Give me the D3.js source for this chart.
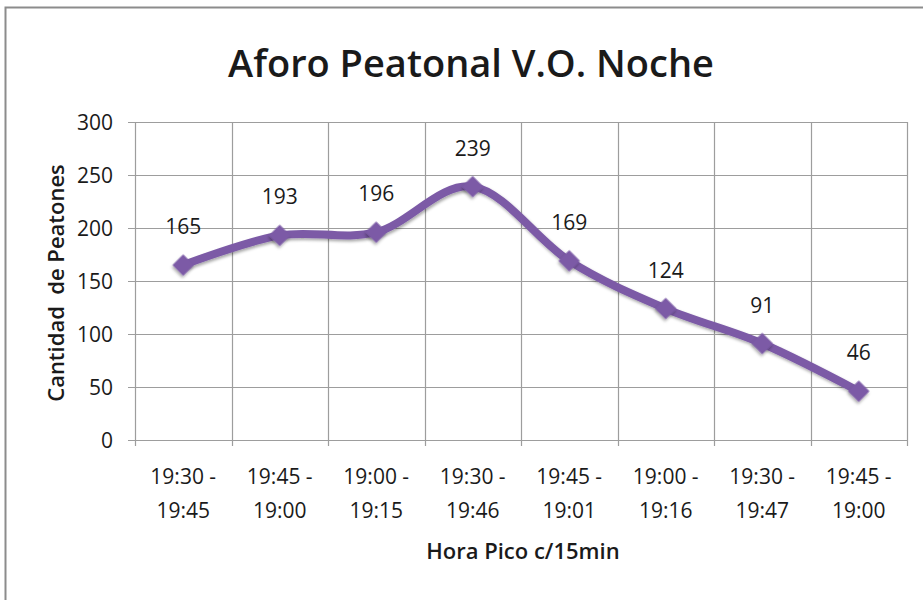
<!DOCTYPE html>
<html lang="es">
<head>
  <meta charset="UTF-8">
  <title>Aforo Peatonal V.O. Noche</title>
  <script src="https://d3js.org/d3.v7.min.js"></script>
  <style>
    body { margin: 0; background: #fff; }
    text { font-family: "Open Sans", "Noto Sans", sans-serif; fill: #1a1a1a; }
  </style>
</head>
<body>

<div id="chart"></div>

<script>
// Data
const categories = [
  ["19:30 -", "19:45"],
  ["19:45 -", "19:00"],
  ["19:00 -", "19:15"],
  ["19:30 -", "19:46"],
  ["19:45 -", "19:01"],
  ["19:00 -", "19:16"],
  ["19:30 -", "19:47"],
  ["19:45 -", "19:00"]
];
const peatones = [165, 193, 196, 239, 169, 124, 91, 46];
const yTicks = [0, 50, 100, 150, 200, 250, 300];

const width = 923;
const height = 600;
const margin = { top: 122, right: 16, bottom: 160, left: 135 };
const purple = "#7b5aa6";
const grid = "#9d9d9d";

const svg = d3.select("#chart")
  .append("svg")
  .attr("width", width)
  .attr("height", height);

// shadow for line and markers
const defs = svg.append("defs");
const f = defs.append("filter").attr("id", "shadow")
  .attr("x", "-50%").attr("y", "-50%").attr("width", "200%").attr("height", "200%");
f.append("feDropShadow").attr("dx", 1).attr("dy", 2).attr("stdDeviation", 1.5)
  .attr("flood-color", "#000").attr("flood-opacity", 0.35);

// outer frame
svg.append("rect")
  .attr("x", 5.5).attr("y", 7.5)
  .attr("width", width + 10).attr("height", height + 10)
  .attr("fill", "none").attr("stroke", "#8c8c8c").attr("stroke-width", 2);

const x = d3.scaleBand()
  .domain(d3.range(categories.length))
  .range([margin.left, width - margin.right]);

const y = d3.scaleLinear()
  .domain([0, 300])
  .range([height - margin.bottom, margin.top]);

// horizontal gridlines
svg.append("g")
  .selectAll("line")
  .data(yTicks)
  .enter().append("line")
  .attr("x1", margin.left - 7).attr("x2", width - margin.right)
  .attr("y1", d => Math.round(y(d)) + 0.5).attr("y2", d => Math.round(y(d)) + 0.5)
  .attr("stroke", grid).attr("stroke-width", 1.2);

// vertical gridlines at category boundaries
const bounds = d3.range(categories.length + 1).map(i =>
  i < categories.length ? x(i) : x(i - 1) + x.bandwidth());
svg.append("g")
  .selectAll("line")
  .data(bounds)
  .enter().append("line")
  .attr("x1", d => Math.round(d) + 0.5).attr("x2", d => Math.round(d) + 0.5)
  .attr("y1", y(300)).attr("y2", y(0) + 6)
  .attr("stroke", grid).attr("stroke-width", 1.2);

// y tick labels
svg.append("g")
  .selectAll("text")
  .data(yTicks)
  .enter().append("text")
  .attr("x", margin.left - 22)
  .attr("y", d => y(d))
  .attr("dy", "0.36em")
  .attr("text-anchor", "end")
  .style("font-size", "21px")
  .text(d => d);

// x tick labels
const cx = (d, i) => x(i) + x.bandwidth() / 2;
const xl = svg.append("g")
  .selectAll("text")
  .data(categories)
  .enter().append("text")
  .attr("x", cx)
  .attr("y", 484)
  .attr("text-anchor", "middle")
  .style("font-size", "21px");
xl.append("tspan").attr("x", cx).text(d => d[0]);
xl.append("tspan").attr("x", cx).attr("dy", 34).text(d => d[1]);

// line
const line = d3.line()
  .x(cx)
  .y(d => y(d))
  .curve(d3.curveCardinal.tension(0));

svg.append("path")
  .datum(peatones)
  .attr("d", line)
  .attr("fill", "none")
  .attr("stroke", purple)
  .attr("stroke-width", 8)
  .attr("stroke-linejoin", "round")
  .attr("filter", "url(#shadow)");

// diamond markers
svg.append("g")
  .selectAll("path")
  .data(peatones)
  .enter().append("path")
  .attr("d", d3.symbol(d3.symbolSquare, 230))
  .attr("transform", (d, i) => `translate(${cx(d, i)},${y(d)}) rotate(45)`)
  .attr("fill", purple)
  .attr("filter", "url(#shadow)");

// data labels
svg.append("g")
  .selectAll("text")
  .data(peatones)
  .enter().append("text")
  .attr("x", cx)
  .attr("y", d => y(d) - 31)
  .attr("text-anchor", "middle")
  .style("font-size", "21px")
  .text(d => d);

// title
svg.append("text")
  .attr("x", 471).attr("y", 77)
  .attr("text-anchor", "middle")
  .style("font-size", "38px").style("font-weight", "600")
  .text("Aforo Peatonal V.O. Noche");

// axis titles
svg.append("text")
  .attr("x", 523).attr("y", 559)
  .attr("text-anchor", "middle")
  .style("font-size", "22px").style("font-weight", "600")
  .text("Hora Pico c/15min");

svg.append("text")
  .attr("transform", "translate(64,283) rotate(-90)")
  .attr("text-anchor", "middle")
  .style("font-size", "22px").style("font-weight", "600")
  .attr("xml:space", "preserve")
  .text("Cantidad  de Peatones");
</script>

</body>
</html>
